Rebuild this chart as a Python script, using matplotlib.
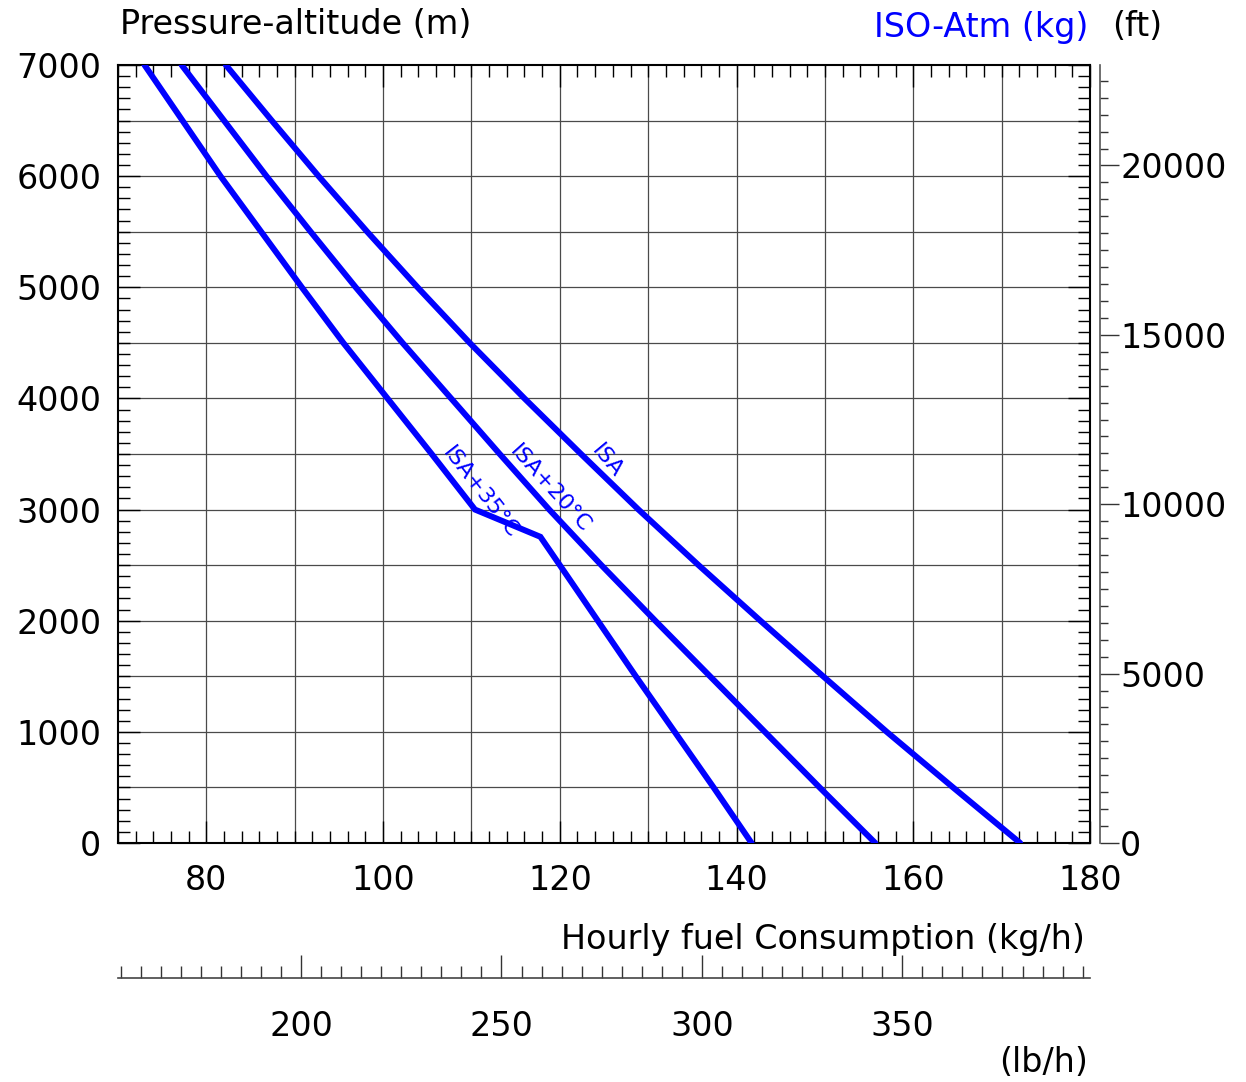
import matplotlib
matplotlib.use("Agg")
import matplotlib.pyplot as plt
from matplotlib.ticker import MultipleLocator, FixedLocator

# altitudes (m) and fuel flow (kg/h)
alt_isa = [7000, 6500, 6000, 5500, 5000, 4500, 4000, 3500, 3000, 2500, 2000, 1500, 1000, 500, 0]
fuel_isa = [82.2, 87.4, 92.7, 98.2, 103.9, 109.8, 116.0, 122.4, 128.9, 135.7, 142.7, 149.8, 157.0, 164.5, 172.1]

alt_isa20 = [7000, 6500, 6000, 5500, 5000, 4500, 4000, 3500, 3000, 2500, 2000, 1500, 1000, 500, 0]
fuel_isa20 = [77.2, 82.0, 86.8, 91.8, 96.9, 102.2, 107.7, 113.2, 118.8, 124.7, 130.8, 137.0, 143.2, 149.4, 155.7]

alt_isa35 = [7000, 6500, 6000, 5500, 5000, 4500, 4000, 3500, 3000, 2755, 2500, 2000, 1500, 1000, 500, 0]
fuel_isa35 = [73.0, 77.3, 81.6, 86.2, 90.8, 95.5, 100.5, 105.5, 110.4, 117.8, 120.0, 124.3, 128.6, 133.0, 137.4, 141.7]

curve_labels = ["ISA", "ISA+20°C", "ISA+35°C"]
label_pos = [(125.4, 3440), (118.9, 3190), (111.0, 3150)]
label_rot = [-50, -48, -52]

ft_labels = [0, 5000, 10000, 15000, 20000]
lb_labels = [200, 250, 300, 350]

KG2LB = 2.20462
M2FT = 1 / 0.3048

BLUE = "#0000ff"
W, H = 1246, 1082
FS = 24

fig = plt.figure(figsize=(W / 100, H / 100), dpi=100)
ax = fig.add_axes([118 / W, 1 - 843 / H, 972 / W, 778 / H])

for xs, ys in [(fuel_isa, alt_isa), (fuel_isa20, alt_isa20), (fuel_isa35, alt_isa35)]:
    ax.plot(xs, ys, color=BLUE, lw=4.3, solid_capstyle="round",
            solid_joinstyle="miter", zorder=3)

for txt, (x, y), r in zip(curve_labels, label_pos, label_rot):
    ax.text(x, y, txt, color=BLUE, fontsize=16, rotation=r,
            ha="center", va="center", rotation_mode="anchor", zorder=4)

ax.set_xlim(70, 180)
ax.set_ylim(0, 7000)
ax.xaxis.set_major_locator(FixedLocator([80, 100, 120, 140, 160, 180]))
ax.xaxis.set_minor_locator(MultipleLocator(2))
ax.yaxis.set_major_locator(MultipleLocator(1000))
ax.yaxis.set_minor_locator(MultipleLocator(100))

# grid every 10 kg/h and 500 m
for gx in range(80, 180, 10):
    ax.axvline(gx, color="#4a4a4a", lw=0.9, zorder=1)
for gy in range(500, 7000, 500):
    ax.axhline(gy, color="#4a4a4a", lw=0.9, zorder=1)

ax.tick_params(which="both", direction="in", top=True, right=True,
               labelsize=FS, color="black", width=1.0)
ax.tick_params(which="major", length=16)
ax.tick_params(which="minor", length=8.5)
ax.tick_params(axis="x", which="major", pad=15)
ax.tick_params(axis="y", which="major", pad=12)
for s in ax.spines.values():
    s.set_linewidth(1.5)

# feet scale on the right
ax_ft = ax.secondary_yaxis(1 + 10 / 972, functions=(lambda m: m * M2FT, lambda f: f / M2FT))
ax_ft.yaxis.set_major_locator(FixedLocator(ft_labels))
ax_ft.yaxis.set_minor_locator(FixedLocator(range(0, 23000, 500)))
ax_ft.tick_params(which="both", direction="out", labelsize=FS, width=1.0, color="#333333")
ax_ft.tick_params(which="major", length=13.5, pad=1)
ax_ft.tick_params(which="minor", length=5.8)
ax_ft.spines["right"].set_linewidth(1.2)
ax_ft.spines["right"].set_color("#555555")

# lb/h scale at the bottom
ax_lb = ax.secondary_xaxis(-135 / 778, functions=(lambda k: k * KG2LB, lambda l: l / KG2LB))
ax_lb.xaxis.set_major_locator(FixedLocator(lb_labels))
ax_lb.xaxis.set_minor_locator(FixedLocator(range(155, 400, 5)))
ax_lb.tick_params(which="both", direction="in", labelsize=FS, width=1.0, color="#333333")
ax_lb.tick_params(which="major", length=16.5, pad=23)
ax_lb.tick_params(which="minor", length=8.5)
ax_lb.spines["bottom"].set_linewidth(1.2)
ax_lb.spines["bottom"].set_color("#444444")

fig.text(120 / W, 1 - 24 / H, "Pressure-altitude (m)", fontsize=FS, ha="left", va="center")
fig.text(1088 / W, 1 - 28 / H, "ISO-Atm (kg)", fontsize=FS, ha="right", va="center", color=BLUE)
fig.text(1112 / W, 1 - 27 / H, "(ft)", fontsize=FS, ha="left", va="center")
fig.text(1085 / W, 1 - 940 / H, "Hourly fuel Consumption (kg/h)", fontsize=FS, ha="right", va="center")
fig.text(1088 / W, 1 - 1063 / H, "(lb/h)", fontsize=FS, ha="right", va="center")

fig.savefig("out.png", dpi=100)
